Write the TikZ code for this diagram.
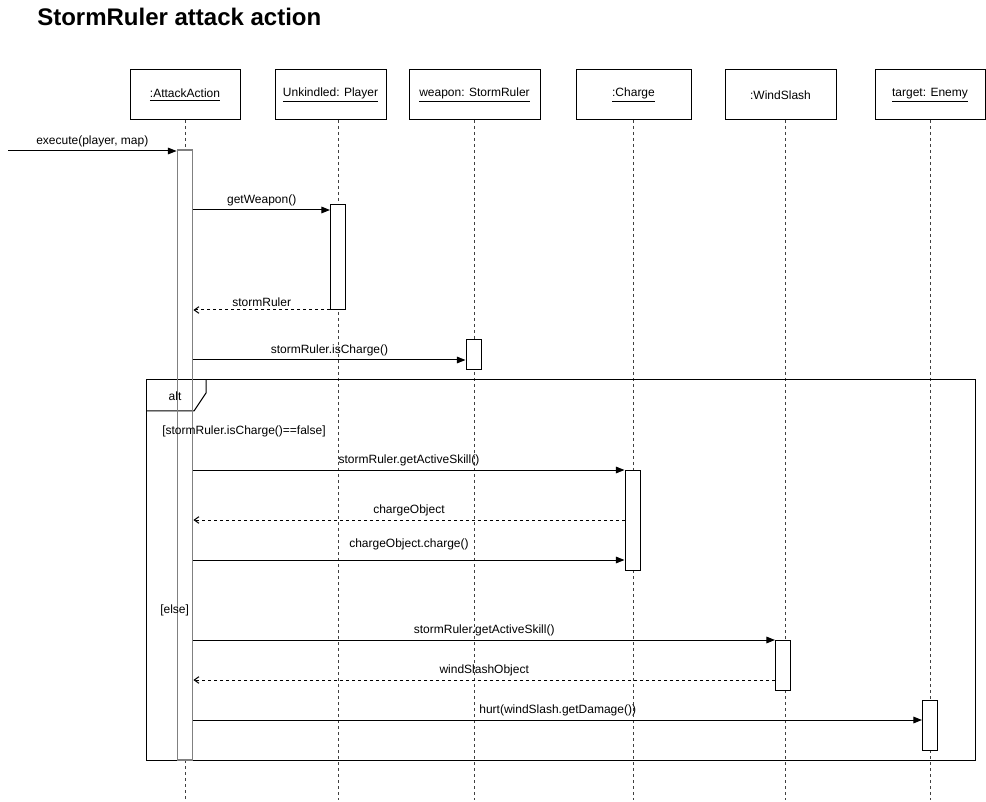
\documentclass[tikz,border=0pt]{standalone}
\usepackage{fontspec}
\setmainfont{Liberation Sans}
\usetikzlibrary{arrows.meta}
\begin{document}
\begin{tikzpicture}[x=0.75pt,y=-0.75pt,
  lbl/.style={font=\fontsize{9pt}{10pt}\selectfont, inner sep=0pt},
  head/.style={draw, line width=0.75pt, minimum height=37.5pt, inner sep=0pt, font=\fontsize{9pt}{10pt}\selectfont},
  life/.style={draw=black!75, line width=0.75pt, dash pattern=on 2.25pt off 2.25pt},
  act/.style={draw, fill=white, line width=0.75pt, minimum width=11.25pt, inner sep=0pt},
  msg/.style={line width=0.75pt, -{Triangle[length=6.5pt,width=5pt]}},
  ret/.style={line width=0.75pt, dash pattern=on 2.25pt off 2.25pt, -{Straight Barb[length=3.5pt,width=5pt]}},
  frame/.style={draw, line width=0.75pt},
  mlab/.style={lbl, above=2.5pt}]
\useasboundingbox (0,0) rectangle (986,802);

% title
\node[anchor=west, inner sep=0pt, font=\fontsize{18pt}{20pt}\selectfont\bfseries] (title) at (37,17) {StormRuler attack action};

% headers
\node[head, minimum width=82.5pt] (AA) at (185,95) {\underline{:AttackAction}};
\node[head, minimum width=83.25pt] (UP) at (330.5,95) {\underline{Unkindled: Player}};
\node[head, minimum width=98.25pt] (WS) at (474.5,95) {\underline{weapon: StormRuler}};
\node[head, minimum width=86.25pt] (CH) at (633.5,95) {\underline{:Charge}};
\node[head, minimum width=83.25pt] (WD) at (780.5,95) {:WindSlash};
\node[head, minimum width=82.5pt] (TE) at (930,95) {\underline{target: Enemy}};

% lifelines
\coordinate (AAt) at (185,120);  \coordinate (AAm) at (185,150);
\coordinate (AAn) at (185,760);  \coordinate (AAb) at (185,800);
\coordinate (UPt) at (338,120);  \coordinate (UPb) at (338,800);
\coordinate (WSt) at (474,120);  \coordinate (WSb) at (474,800);
\coordinate (CHt) at (633,120);  \coordinate (CHb) at (633,800);
\coordinate (WDt) at (785,120);  \coordinate (WDb) at (785,800);
\coordinate (TEt) at (930,120);  \coordinate (TEb) at (930,800);
\draw[life] (AAt) -- (AAm);
\draw[life] (AAn) -- (AAb);
\draw[life] (UPt) -- (UPb);
\draw[life] (WSt) -- (WSb);
\draw[life] (CHt) -- (CHb);
\draw[life] (WDt) -- (WDb);
\draw[life] (TEt) -- (TEb);

% alt frame
\draw[frame] (146,380) rectangle (975,760);
\draw[frame] (146,411) -- (194,411) -- (206,393) -- (206,380);

% activations
\node[act, fill=none, draw=black!50, line width=1.4pt, minimum height=457.5pt] (aA) at (185,455) {};
\node[act, minimum height=78.75pt] (aP) at (338,257.5) {};
\node[act, minimum height=22.5pt] (aW) at (473.5,355) {};
\node[act, minimum height=75pt] (aC) at (632.5,520) {};
\node[act, minimum height=37.5pt] (aD) at (783,665) {};
\node[act, minimum height=37.5pt] (aT) at (930,725) {};

% frame texts
\node[lbl] (alt) at (175,396) {alt};
\node[lbl, anchor=west] (g1) at (162,431) {[stormRuler.isCharge()==false]};
\node[lbl, anchor=west] (g2) at (160,610) {[else]};

% messages
\coordinate (ext) at (8,151);
\draw[msg] (ext) -- (ext -| aA.west) node[mlab, midway] {execute(player, map)};
\draw[msg] (aA.east |- 0,210) -- (aP.west |- 0,210) node[mlab, midway] {getWeapon()};
\draw[ret] (aP.west |- 0,310) -- (aA.east |- 0,310) node[mlab, midway] {stormRuler};
\draw[msg] (aA.east |- 0,360) -- (aW.west |- 0,360) node[mlab, midway] {stormRuler.isCharge()};
\draw[msg] (aA.east |- 0,470) -- (aC.west |- 0,470) node[mlab, midway] {stormRuler.getActiveSkill()};
\draw[ret] (aC.west |- 0,520) -- (aA.east |- 0,520) node[mlab, midway] {chargeObject};
\draw[msg] (aA.east |- 0,560) -- (aC.west |- 0,560) node[mlab, midway, above=5pt] {chargeObject.charge()};
\draw[msg] (aA.east |- 0,640) -- (aD.west |- 0,640) node[mlab, midway] {stormRuler.getActiveSkill()};
\draw[ret] (aD.west |- 0,680) -- (aA.east |- 0,680) node[mlab, midway] {windSlashObject};
\draw[msg] (aA.east |- 0,720) -- (aT.west |- 0,720) node[mlab, midway] {hurt(windSlash.getDamage())};
\end{tikzpicture}
\end{document}
